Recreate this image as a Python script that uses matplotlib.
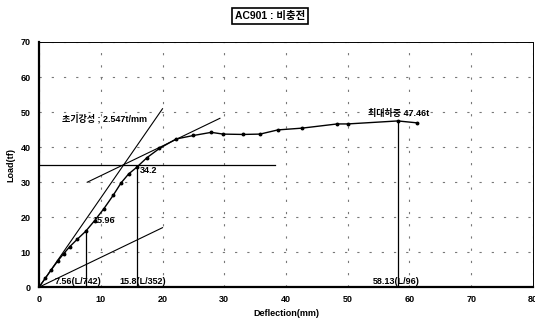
import matplotlib
matplotlib.use("Agg")
import matplotlib.pyplot as plt
import numpy as np

plt.rcParams['font.family'] = ['Liberation Sans', 'Noto Sans CJK KR', 'DejaVu Sans']

# load-deflection curve
defl = [0, 1.0, 2.0, 3.0, 4.0, 5.0, 6.2, 7.56, 9.0, 10.5, 12.0, 13.3, 14.5, 15.8,
        17.5, 19.5, 22.2, 25.0, 27.9, 29.8, 33.0, 35.8, 38.7, 42.6, 48.3, 50.0,
        58.13, 61.3]
load = [0, 2.5, 5.0, 7.4, 9.6, 11.6, 13.7, 15.96, 19.0, 22.4, 26.2, 29.8, 32.3, 34.2,
        37.0, 39.6, 42.3, 43.3, 44.2, 43.7, 43.6, 43.7, 44.9, 45.4, 46.6, 46.6,
        47.46, 46.9]

k0 = 2.547          # initial stiffness t/mm
load_y = 35.0       # horizontal reference load
marks_x = [7.56, 15.8, 58.13]
marks_y = [15.96, 34.2, 47.46]
marks_lbl = ['7.56(L/742)', '15.8(L/352)', '58.13(L/96)']
title = 'AC901 : 비충전'

fig = plt.figure(figsize=(5.35, 3.23), dpi=100)
ax = fig.add_axes([0.073, 0.111, 0.923, 0.759])

# grid
ax.grid(True, color='#777777', linestyle=(0, (2, 9)), linewidth=0.8)

# initial stiffness line and 1/3 stiffness line
xs = np.array([0, 20])
ax.plot(xs, k0 * xs, color='black', lw=0.8)
ax.plot(xs, k0 / 3 * xs, color='black', lw=0.8)
# tangent line parallel to 1/3 stiffness through intersection
x_int = load_y / k0
xt = np.array([7.8, 29.3])
ax.plot(xt, load_y + k0 / 3 * (xt - x_int), color='black', lw=0.8)
# horizontal line
ax.plot([0, 38.2], [load_y, load_y], color='black', lw=0.9)

# vertical marker lines
for mx, my in zip(marks_x, marks_y):
    ax.plot([mx, mx], [0, my], color='black', lw=0.9)

# curve
ax.plot(defl, load, color='black', lw=1.0, marker='o', markersize=1.8)

fs = 6.5
ax.text(2.6, 1.7, marks_lbl[0], fontsize=fs, fontweight='bold', va='center')
ax.text(13.1, 1.7, marks_lbl[1], fontsize=fs, fontweight='bold', va='center')
ax.text(54.0, 1.7, marks_lbl[2], fontsize=fs, fontweight='bold', va='center')
ax.text(8.6, 19.1, '15.96', fontsize=fs, fontweight='bold', va='center')
ax.text(16.3, 33.4, '34.2', fontsize=fs, fontweight='bold', va='center')
ax.text(3.7, 48.0, '초기강성 ; 2.547t/mm', fontsize=fs, fontweight='bold', va='center')
ax.text(53.3, 49.7, '최대하중 47.46t', fontsize=fs, fontweight='bold', va='center')

ax.set_xlim(0, 80)
ax.set_ylim(0, 70)
ax.set_xticks(range(0, 81, 10))
ax.set_yticks(range(0, 71, 10))
ax.tick_params(length=0, labelsize=6.5, pad=6)
for lab in ax.get_xticklabels() + ax.get_yticklabels():
    lab.set_fontweight('bold')

ax.spines['left'].set_linewidth(1.6)
ax.spines['bottom'].set_linewidth(1.6)
ax.spines['top'].set_linewidth(0.7)
ax.spines['right'].set_linewidth(0.7)
ax.spines['right'].set_linestyle((0, (1, 1)))

ax.set_xlabel('Deflection(mm)', fontsize=6.5, fontweight='bold', labelpad=3)
ax.set_ylabel('Load(tf)', fontsize=6.5, fontweight='bold', labelpad=4)

fig.text(0.505, 0.95, title, fontsize=7.5, fontweight='bold', ha='center', va='center',
         bbox=dict(boxstyle='square,pad=0.3', facecolor='white', edgecolor='black', lw=1.2))

fig.savefig('out.png', dpi=100)
